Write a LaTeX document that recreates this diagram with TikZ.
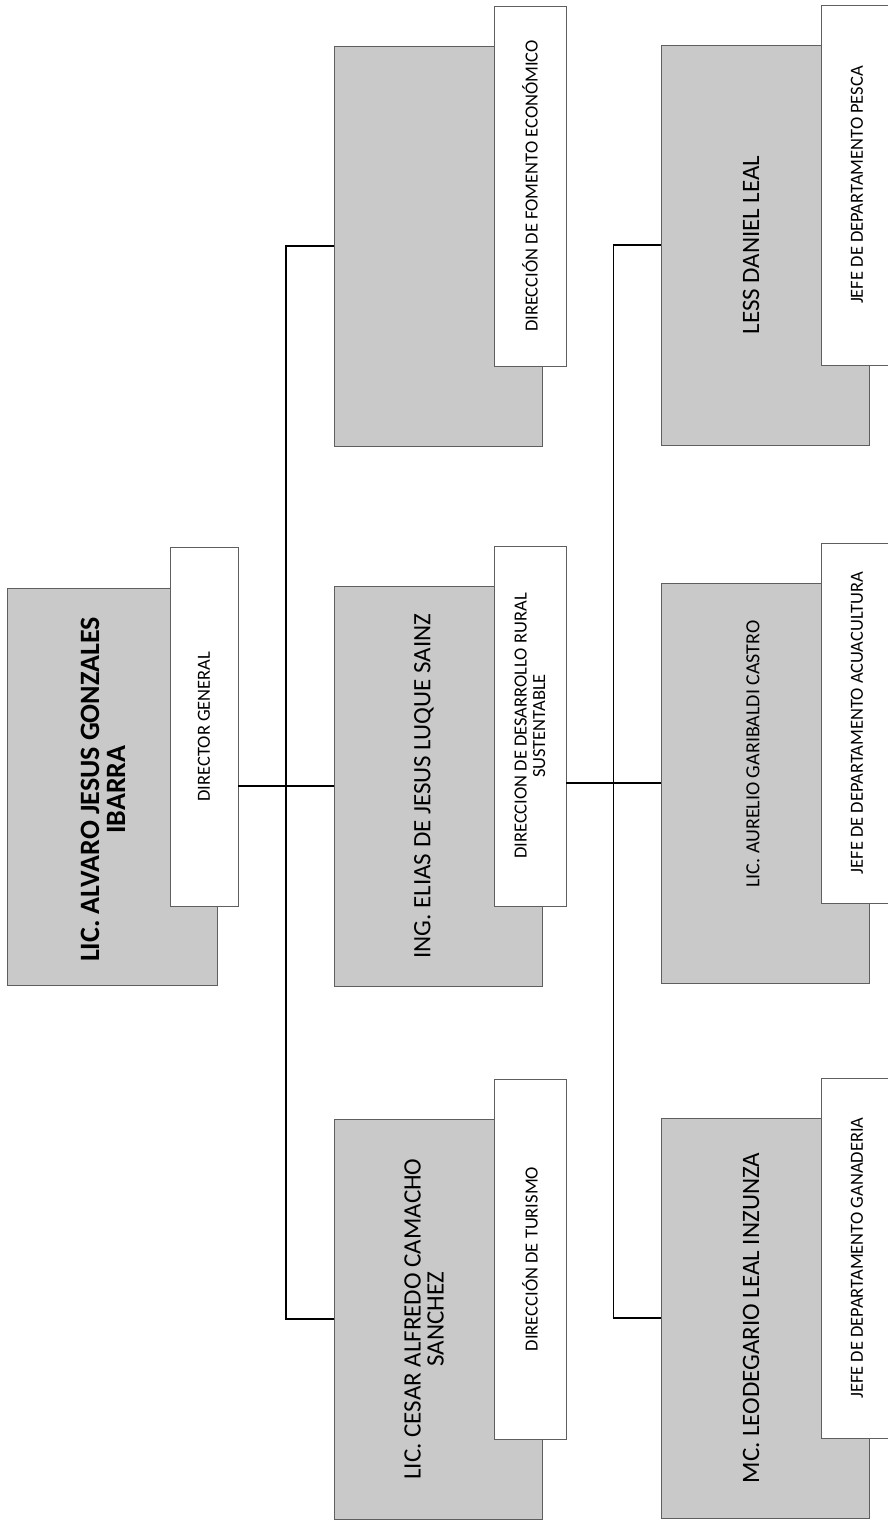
\documentclass[tikz,border=0pt]{standalone}
\usepackage{fontspec}
\setmainfont{Carlito}
\usetikzlibrary{calc}
\definecolor{grisca}{RGB}{200,201,200}
\definecolor{borde}{RGB}{95,95,95}
\tikzset{
  caja/.style={draw=borde, line width=0.7pt, fill=grisca, minimum width=208pt, minimum height=400pt, inner sep=0pt},
  cargo/.style={draw=borde, line width=0.6pt, fill=white, rotate=90, minimum width=360pt, minimum height=72pt, inner sep=0pt, align=center, font=\fontsize{18.5}{18.5}\selectfont},
  nombre/.style={rotate=90, align=center, font=\fontsize{25}{23}\selectfont},
  linea/.style={black, line width=1.1pt}
}
\begin{document}
\begin{tikzpicture}[x=1pt, y=-1pt]
    \useasboundingbox (0,0) rectangle (887,1524);
    % Director general
    \node[caja, minimum width=210pt, minimum height=397pt] (director) at (112,786.5) {};
    \node[nombre, font=\bfseries\fontsize{28}{26}\selectfont] (director-nombre) at ([xshift=-9pt, yshift=-3pt]director.center) {LIC. ALVARO JESUS GONZALES\\IBARRA};
    \node[cargo, minimum width=359pt, minimum height=68pt] (director-cargo) at ([xshift=92pt, yshift=60pt]director.center) {DIRECTOR GENERAL};
    % Direcciones
    \node[caja] (fomento) at (438,246) {};
    \node[cargo] (fomento-cargo) at ([xshift=92pt, yshift=60pt]fomento.center) {DIRECCIÓN DE FOMENTO ECONÓMICO};
    \node[caja] (elias) at (438,786) {};
    \node[nombre] (elias-nombre) at ([xshift=-14pt]elias.center) {ING. ELIAS DE JESUS LUQUE SAINZ};
    \node[cargo] (elias-cargo) at ([xshift=92pt, yshift=60pt]elias.center) {DIRECCION DE DESARROLLO RURAL\\SUSTENTABLE};
    \node[caja] (cesar) at (438,1319) {};
    \node[nombre] (cesar-nombre) at ([xshift=-14pt]cesar.center) {LIC. CESAR ALFREDO CAMACHO\\SANCHEZ};
    \node[cargo] (cesar-cargo) at ([xshift=92pt, yshift=60pt]cesar.center) {DIRECCIÓN DE TURISMO};
    % Jefes de departamento
    \node[caja] (pesca) at (765,245) {};
    \node[nombre] (pesca-nombre) at ([xshift=-14pt]pesca.center) {LESS DANIEL LEAL};
    \node[cargo] (pesca-cargo) at ([xshift=92pt, yshift=60pt]pesca.center) {JEFE DE DEPARTAMENTO PESCA};
    \node[caja] (aurelio) at (765,783) {};
    \node[nombre, font=\fontsize{20}{20}\selectfont] (aurelio-nombre) at ([xshift=-12pt, yshift=29pt]aurelio.center) {LIC. AURELIO GARIBALDI CASTRO};
    \node[cargo] (aurelio-cargo) at ([xshift=92pt, yshift=60pt]aurelio.center) {JEFE DE DEPARTAMENTO ACUACULTURA};
    \node[caja] (leodegario) at (765,1318) {};
    \node[nombre] (leodegario-nombre) at ([xshift=-14pt]leodegario.center) {MC. LEODEGARIO LEAL INZUNZA};
    \node[cargo] (leodegario-cargo) at ([xshift=92pt, yshift=60pt]leodegario.center) {JEFE DE DEPARTAMENTO GANADERIA};
    % Conectores
    \coordinate (bus1) at ($(director-cargo.south)!0.5!(elias.west)$);
    \coordinate (bus2) at ($(elias-cargo.south)!0.5!(aurelio.west)$);
    \draw[linea] (director-cargo.south |- elias.west) -- (elias.west);
    \draw[linea] (fomento.west) -| (bus1) |- (cesar.west);
    \draw[linea] (elias-cargo.south |- aurelio.west) -- (aurelio.west);
    \draw[linea] (pesca.west) -| (bus2) |- (leodegario.west);
\end{tikzpicture}
\end{document}
